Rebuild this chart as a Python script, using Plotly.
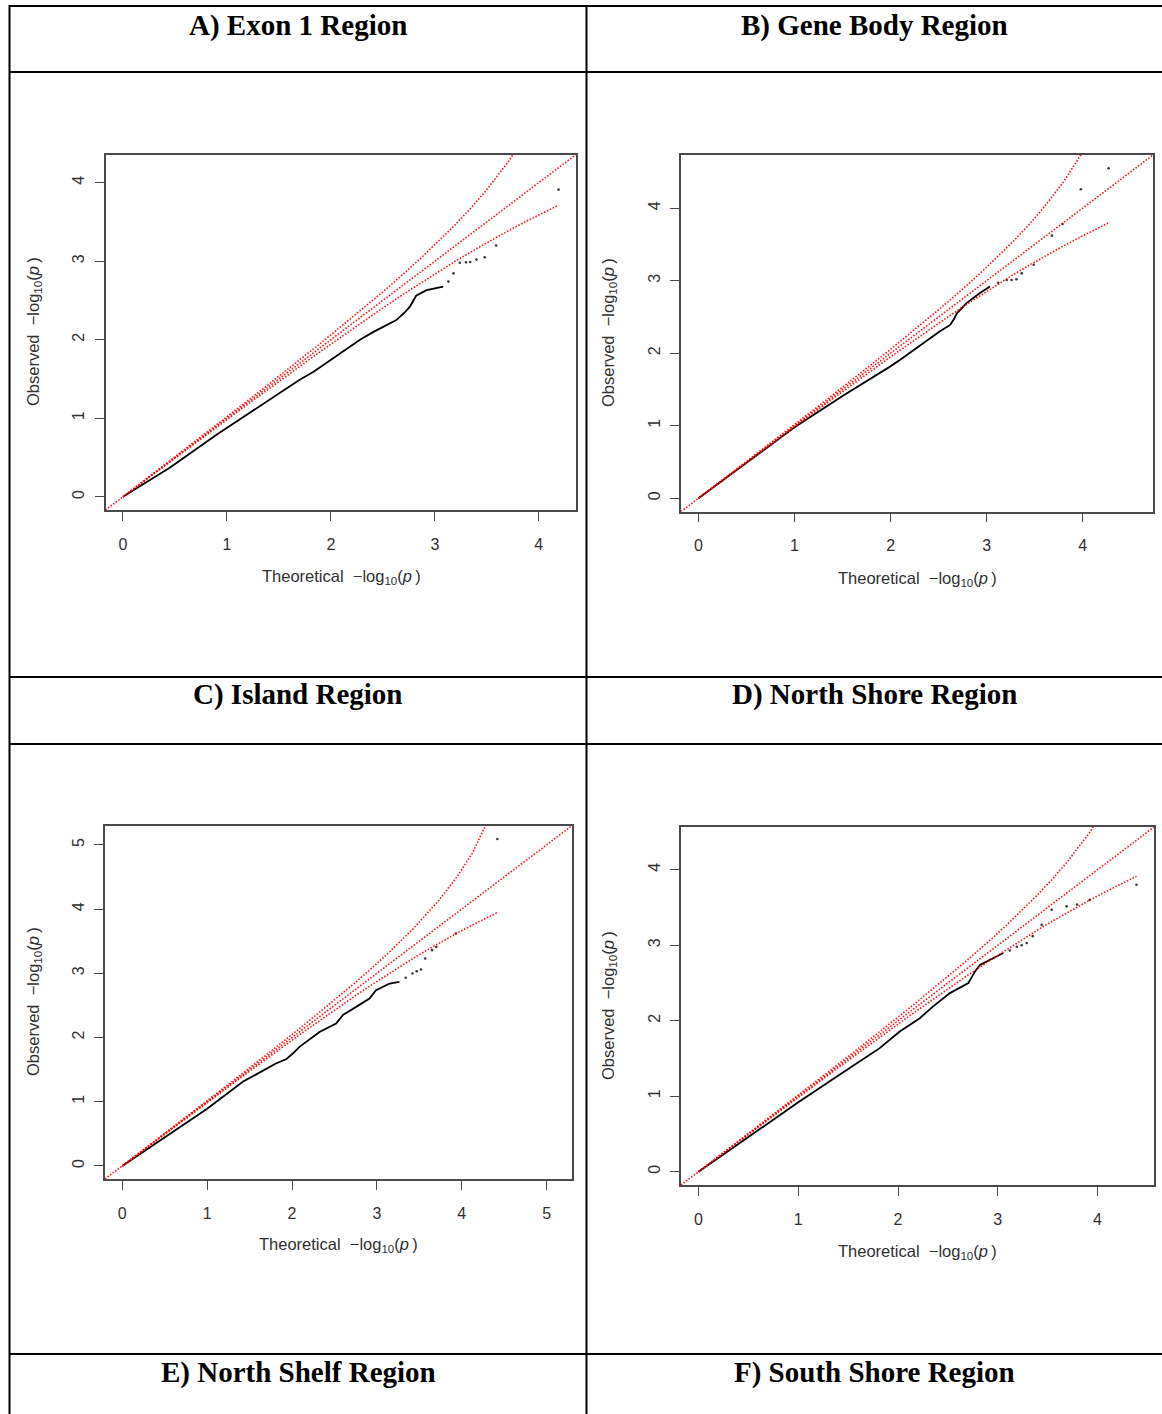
import plotly.graph_objects as go

W, H = 1162, 1414

# ---------------- data ----------------
panel_titles = ["A) Exon 1 Region", "B) Gene Body Region", "C) Island Region",
                "D) North Shore Region", "E) North Shelf Region", "F) South Shore Region"]

x_tick_vals = {"A": [0, 1, 2, 3, 4], "B": [0, 1, 2, 3, 4], "C": [0, 1, 2, 3, 4, 5], "D": [0, 1, 2, 3, 4]}
y_tick_vals = {"A": [0, 1, 2, 3, 4], "B": [0, 1, 2, 3, 4], "C": [0, 1, 2, 3, 4, 5], "D": [0, 1, 2, 3, 4]}

# Panel A (Exon 1)
a_obs_x = [0, 0.26, 0.45, 0.90, 1.30, 1.70, 1.83, 2.02, 2.12, 2.28, 2.41, 2.535, 2.63, 2.72, 2.76, 2.82, 2.92, 3.08]
a_obs_y = [0, 0.21, 0.37, 0.79, 1.14, 1.49, 1.59, 1.76, 1.85, 2.00, 2.10, 2.19, 2.25, 2.36, 2.42, 2.56, 2.63, 2.675]
a_tail_x = [3.13, 3.18, 3.24, 3.30, 3.34, 3.40, 3.48, 3.59, 4.19]
a_tail_y = [2.74, 2.845, 2.98, 2.985, 2.99, 3.02, 3.05, 3.20, 3.91]
a_band_x = [0, 1.19, 1.889, 2.19, 2.491, 2.713, 2.889, 3.19, 3.345, 3.491, 3.713, 3.889, 4.19]
a_band_hi = [0, 1.213, 1.941, 2.265, 2.599, 2.856, 3.068, 3.456, 3.674, 3.896, 4.278, 4.639, 5.480]
a_band_lo = [0, 1.168, 1.840, 2.122, 2.396, 2.593, 2.745, 2.994, 3.117, 3.228, 3.391, 3.514, 3.713]

# Panel B (Gene Body)
b_obs_x = [0, 0.5, 1.0, 1.5, 1.89, 1.994, 2.10, 2.31, 2.51, 2.62, 2.66, 2.69, 2.79, 2.93, 3.035]
b_obs_y = [0, 0.49, 0.98, 1.41, 1.724, 1.815, 1.91, 2.115, 2.30, 2.39, 2.47, 2.55, 2.69, 2.83, 2.92]
b_tail_x = [3.12, 3.21, 3.26, 3.31, 3.365, 3.49, 3.68, 3.79, 3.98, 4.27]
b_tail_y = [2.97, 3.01, 3.01, 3.02, 3.10, 3.22, 3.62, 3.78, 4.26, 4.55]
b_band_x = [0, 1.28, 1.979, 2.28, 2.581, 2.803, 2.979, 3.28, 3.435, 3.581, 3.803, 3.979, 4.28]
b_band_hi = [0, 1.303, 2.031, 2.355, 2.689, 2.946, 3.158, 3.546, 3.764, 3.986, 4.368, 4.729, 5.570]
b_band_lo = [0, 1.258, 1.930, 2.212, 2.486, 2.683, 2.835, 3.084, 3.207, 3.318, 3.481, 3.604, 3.803]

# Panel C (Island)
c_obs_x = [0, 0.5, 1.0, 1.42, 1.81, 1.93, 2.01, 2.088, 2.324, 2.52, 2.60, 2.756, 2.913, 2.99, 3.15, 3.266]
c_obs_y = [0, 0.45, 0.89, 1.31, 1.595, 1.66, 1.75, 1.854, 2.087, 2.218, 2.35, 2.477, 2.607, 2.737, 2.84, 2.867]
c_tail_x = [3.34, 3.42, 3.47, 3.52, 3.57, 3.65, 3.70, 3.93, 4.42]
c_tail_y = [2.93, 2.997, 3.03, 3.06, 3.23, 3.36, 3.41, 3.62, 5.09]
c_band_x = [0, 1.43, 2.129, 2.43, 2.731, 2.953, 3.129, 3.43, 3.585, 3.731, 3.953, 4.129, 4.43]
c_band_hi = [0, 1.453, 2.181, 2.505, 2.839, 3.096, 3.308, 3.696, 3.914, 4.136, 4.518, 4.879, 5.720]
c_band_lo = [0, 1.408, 2.080, 2.362, 2.636, 2.833, 2.985, 3.234, 3.357, 3.468, 3.631, 3.754, 3.953]

# Panel D (North Shore)
d_obs_x = [0, 0.5, 1.0, 1.5, 1.816, 2.017, 2.218, 2.352, 2.52, 2.705, 2.74, 2.77, 2.82, 2.955, 3.056]
d_obs_y = [0, 0.46, 0.92, 1.36, 1.637, 1.857, 2.034, 2.19, 2.366, 2.50, 2.58, 2.65, 2.74, 2.83, 2.897]
d_tail_x = [3.12, 3.19, 3.24, 3.29, 3.35, 3.44, 3.54, 3.69, 3.795, 3.92, 4.39]
d_tail_y = [2.93, 2.98, 3.00, 3.03, 3.12, 3.27, 3.47, 3.515, 3.54, 3.60, 3.80]
d_band_x = [0, 1.39, 2.089, 2.39, 2.691, 2.913, 3.089, 3.39, 3.545, 3.691, 3.913, 4.089, 4.39]
d_band_hi = [0, 1.413, 2.141, 2.465, 2.799, 3.056, 3.268, 3.656, 3.874, 4.096, 4.478, 4.839, 5.680]
d_band_lo = [0, 1.368, 2.040, 2.322, 2.596, 2.793, 2.945, 3.194, 3.317, 3.428, 3.591, 3.714, 3.913]

panels = {
    "A": dict(obs=(a_obs_x, a_obs_y), tail=(a_tail_x, a_tail_y), band=(a_band_x, a_band_hi, a_band_lo)),
    "B": dict(obs=(b_obs_x, b_obs_y), tail=(b_tail_x, b_tail_y), band=(b_band_x, b_band_hi, b_band_lo)),
    "C": dict(obs=(c_obs_x, c_obs_y), tail=(c_tail_x, c_tail_y), band=(c_band_x, c_band_hi, c_band_lo)),
    "D": dict(obs=(d_obs_x, d_obs_y), tail=(d_tail_x, d_tail_y), band=(d_band_x, d_band_hi, d_band_lo)),
}

# ---------------- layout geometry (pixels) ----------------
boxes = {  # x0, x1, y0(top), y1(bottom)
    "A": (105.5, 576, 154.5, 510),
    "B": (681, 1153, 155, 511.5),
    "C": (105, 571.5, 826, 1179),
    "D": (681, 1154, 827, 1185),
}
ytitle_pos = {"A": (34, 332), "B": (609, 333), "C": (34, 1002), "D": (609, 1006)}
xtitle_pos = {"A": (341, 577), "B": (917, 579), "C": (338, 1245), "D": (917, 1252)}
title_pos = [(298, 26), (874, 26), (298, 695), (874, 695), (298, 1372), (874, 1372)]


def px(x):
    return x / W


def py(y):
    return 1 - y / H


RED = "rgba(255,0,0,0.95)"
AXC = "#4a4a4a"
TXT = "#303030"
SANS = "Liberation Sans, Arial, sans-serif"
SERIF = "Liberation Serif, Times New Roman, serif"
DOT = dict(color=RED, width=1.6, dash="1.5px,1.7px")

fig = go.Figure()
layout = dict(width=W, height=H, margin=dict(l=0, r=0, t=0, b=0),
              paper_bgcolor="white", plot_bgcolor="white", showlegend=False)
annotations = []
shapes = []

for k, key in enumerate(["A", "B", "C", "D"]):
    p = panels[key]
    sfx = "" if k == 0 else str(k + 1)
    xa, ya = "x" + sfx, "y" + sfx
    ox, oy = p["obs"]
    tx, ty = p["tail"]
    bx, bhi, blo = p["band"]
    M = max(max(oy), max(ty), max(ox), max(tx), max(bx))
    lo, hi = -0.04 * M, 1.04 * M

    fig.add_trace(go.Scatter(x=ox, y=oy, mode="lines", xaxis=xa, yaxis=ya,
                             line=dict(color="black", width=1.8), hoverinfo="skip"))
    fig.add_trace(go.Scatter(x=tx, y=ty, mode="markers", xaxis=xa, yaxis=ya,
                             marker=dict(color="#3a3a3a", size=2.6), hoverinfo="skip"))
    fig.add_trace(go.Scatter(x=[lo, hi], y=[lo, hi], mode="lines", xaxis=xa, yaxis=ya,
                             line=DOT, hoverinfo="skip"))
    fig.add_trace(go.Scatter(x=bx, y=bhi, mode="lines", xaxis=xa, yaxis=ya,
                             line=DOT, hoverinfo="skip"))
    fig.add_trace(go.Scatter(x=bx, y=blo, mode="lines", xaxis=xa, yaxis=ya,
                             line=DOT, hoverinfo="skip"))

    x0, x1, y0, y1 = boxes[key]
    common = dict(showgrid=False, zeroline=False, showline=True, mirror=True,
                  linecolor=AXC, linewidth=1.5, ticks="outside", ticklen=9,
                  tickwidth=1.3, tickcolor=AXC, range=[lo, hi],
                  tickfont=dict(family=SANS, size=16, color=TXT))
    layout["xaxis" + sfx] = dict(common, domain=[px(x0), px(x1)], anchor=ya,
                                 tickvals=x_tick_vals[key], ticklabelstandoff=10)
    layout["yaxis" + sfx] = dict(common, domain=[py(y1), py(y0)], anchor=xa,
                                 tickvals=y_tick_vals[key], tickangle=-90, ticklabelstandoff=4)

    yx, yy = ytitle_pos[key]
    annotations.append(dict(x=px(yx), y=py(yy), xref="paper", yref="paper", showarrow=False,
                            text="Observed  \u2212log<sub>10</sub>(<i>p</i>\u2009)", textangle=-90,
                            font=dict(family=SANS, size=16.5, color=TXT),
                            xanchor="center", yanchor="middle"))
    xx, xy = xtitle_pos[key]
    annotations.append(dict(x=px(xx), y=py(xy), xref="paper", yref="paper", showarrow=False,
                            text="Theoretical  \u2212log<sub>10</sub>(<i>p</i>\u2009)",
                            font=dict(family=SANS, size=16.5, color=TXT),
                            xanchor="center", yanchor="middle"))

for t, (tx_, ty_) in zip(panel_titles, title_pos):
    annotations.append(dict(x=px(tx_), y=py(ty_), xref="paper", yref="paper", showarrow=False,
                            text="<b>" + t + "</b>", font=dict(family=SERIF, size=29, color="black"),
                            xanchor="center", yanchor="middle"))

# table rules
for yline in [6, 72, 677, 744, 1354]:
    shapes.append(dict(type="line", xref="paper", yref="paper", x0=px(9), x1=1, y0=py(yline), y1=py(yline),
                       line=dict(color="black", width=2)))
for xline in [9.5, 586.5]:
    shapes.append(dict(type="line", xref="paper", yref="paper", x0=px(xline), x1=px(xline), y0=py(5), y1=0,
                       line=dict(color="black", width=2)))

layout["annotations"] = annotations
layout["shapes"] = shapes
fig.update_layout(**layout)
fig.write_html("out.html")
